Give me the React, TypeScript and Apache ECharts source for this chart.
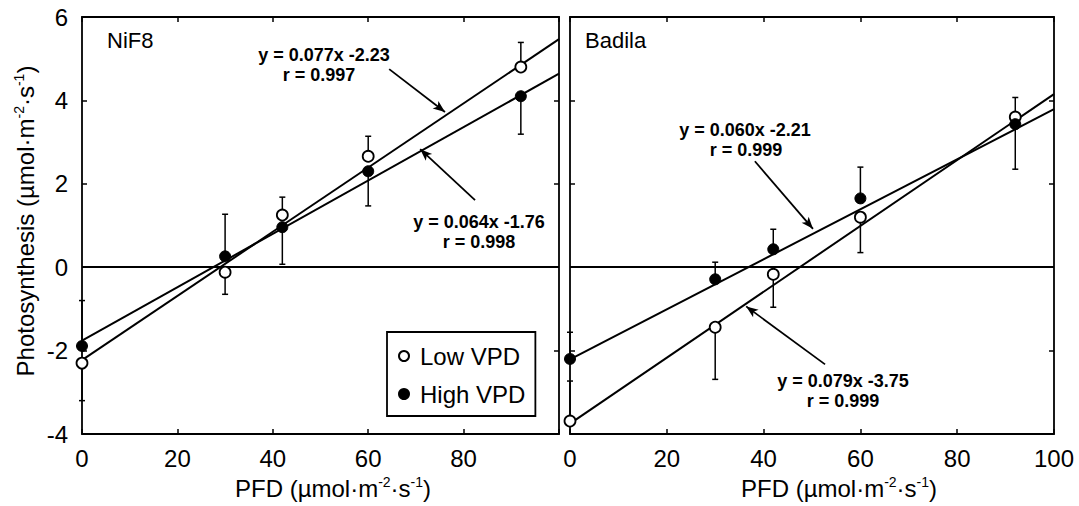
import React, { useEffect, useRef } from 'react';
import * as echarts from 'echarts';

// ---- data ----
const pfd = [0, 30, 42, 60, 92];
const nif8Low = [-2.3, -0.12, 1.25, 2.66, 4.8];
const nif8High = [-1.89, 0.26, 0.96, 2.3, 4.1];
const nif8LowErrEnd = [-3.2, -0.65, 1.68, 3.14, 5.39];
const nif8HighErrEnd = [-0.8, 1.27, 0.07, 1.47, 3.19];
const badilaLow = [-3.69, -1.44, -0.17, 1.2, 3.6];
const badilaHigh = [-2.2, -0.29, 0.43, 1.65, 3.43];
const badilaLowErrEnd = [-2.73, -2.69, -0.96, 0.35, 4.07];
const badilaHighErrEnd = [-1.56, 0.12, 0.91, 2.4, 2.35];

const fitX = [0, 100];
const nif8LowFit = [-2.23, 5.47];
const nif8HighFit = [-1.76, 4.64];
const badilaLowFit = [-3.75, 4.15];
const badilaHighFit = [-2.21, 3.79];

// arrow endpoints [x1, y1, x2, y2] in data units
const nif8LowArrow = [64.4, 4.75, 76.1, 3.72];
const nif8HighArrow = [82.4, 1.61, 70.9, 2.83];
const badilaHighArrow = [38.2, 2.54, 50.2, 0.92];
const badilaLowArrow = [52.7, -2.33, 36.4, -0.94];

const xMin = 0, xMax = 100, xStep = 20;
const yMin = -4, yMax = 6, yStep = 2;

const FONT = "'Liberation Sans', Arial, Helvetica, sans-serif";

function pts(xs: number[], ys: number[]) {
  return xs.map((x, i) => [x, ys[i]]);
}
function bars(xs: number[], ys: number[], ends: number[]) {
  return xs.map((x, i) => [x, ys[i], ends[i]]);
}

export default function App() {
  const ref = useRef<HTMLDivElement>(null);
  useEffect(() => {
    document.body.style.margin = '0';
    if (!ref.current) return;
    const chart = echarts.init(ref.current, null, { renderer: 'svg' });

    const axisLine = { show: true, onZero: false, lineStyle: { color: '#000', width: 1.8 } };
    const axisTick = { show: true, inside: true, length: 5, lineStyle: { color: '#000', width: 1.5 } };
    const labelStyle = { color: '#000', fontSize: 24, fontFamily: FONT };

    const mkX = (grid: number, pos: 'top' | 'bottom', showLabels: boolean, hide100: boolean) => ({
      type: 'value', gridIndex: grid, min: xMin, max: xMax, interval: xStep, position: pos,
      axisLine, axisTick, splitLine: { show: false },
      axisLabel: showLabels
        ? { ...labelStyle, margin: 12, showMinLabel: true, showMaxLabel: true, hideOverlap: false,
            formatter: (v: number) => (hide100 && v === 100 ? '' : String(v)) }
        : { show: false },
    });
    const mkY = (grid: number, pos: 'left' | 'right', showLabels: boolean) => ({
      type: 'value', gridIndex: grid, min: yMin, max: yMax, interval: yStep, position: pos,
      axisLine, axisTick, splitLine: { show: false },
      axisLabel: showLabels
        ? { ...labelStyle, margin: 14, showMinLabel: true, showMaxLabel: true, hideOverlap: false }
        : { show: false },
    });

    const openStyle = { color: '#fff', borderColor: '#000', borderWidth: 1.8, opacity: 1 };
    const filledStyle = { color: '#000', borderColor: '#000', borderWidth: 1, opacity: 1 };

    const errSeries = (xi: number, yi: number, data: number[][]) => ({
      type: 'custom', xAxisIndex: xi, yAxisIndex: yi, data, z: 2, silent: true,
      encode: { x: 0, y: [1, 2] },
      renderItem: (_p: any, api: any) => {
        const x = api.value(0);
        const a = api.coord([x, api.value(1)]);
        const b = api.coord([x, api.value(2)]);
        const st = { stroke: '#000', lineWidth: 1.5 };
        return {
          type: 'group',
          children: [
            { type: 'line', shape: { x1: a[0], y1: a[1], x2: b[0], y2: b[1] }, style: st },
            { type: 'line', shape: { x1: b[0] - 3, y1: b[1], x2: b[0] + 3, y2: b[1] }, style: st },
          ],
        };
      },
    });

    const fitSeries = (xi: number, yi: number, ys: number[]) => ({
      type: 'line', xAxisIndex: xi, yAxisIndex: yi, data: pts(fitX, ys), showSymbol: false,
      symbol: 'none', silent: true, z: 1, lineStyle: { color: '#000', width: 2 },
    });

    const arrowSeries = (xi: number, yi: number, arrows: number[][]) => ({
      type: 'line', xAxisIndex: xi, yAxisIndex: yi, data: [], silent: true,
      markLine: {
        silent: true, symbol: ['none', 'arrow'], symbolSize: [7, 12], animation: false,
        label: { show: false }, lineStyle: { color: '#000', width: 1.8, type: 'solid' },
        data: arrows.map((a) => [{ coord: [a[0], a[1]] }, { coord: [a[2], a[3]] }]),
      },
    });

    const zeroSeries = (xi: number, yi: number) => ({
      type: 'line', xAxisIndex: xi, yAxisIndex: yi, data: [], silent: true,
      markLine: {
        silent: true, symbol: ['none', 'none'], animation: false, label: { show: false },
        lineStyle: { color: '#000', width: 1.8, type: 'solid' }, data: [{ yAxis: 0 }],
      },
    });

    const scatter = (name: string, xi: number, yi: number, ys: number[], style: any, size: number) => ({
      name, type: 'scatter', xAxisIndex: xi, yAxisIndex: yi, data: pts(pfd, ys), symbol: 'circle',
      symbolSize: size, itemStyle: style, z: 5, silent: true,
    });

    const sup = { fontSize: 14, verticalAlign: 'top', fontFamily: FONT, fill: '#000', color: '#000', lineHeight: 18 };
    const base = { fontSize: 24, fontFamily: FONT, fill: '#000', color: '#000', lineHeight: 26 };
    const unitText = '{b|(µmol·m}{s|-2}{b|·s}{s|-1}{b|)}';

    const annot = (text: string, x: number, y: number) => ({
      type: 'text', x, y, silent: true,
      style: { text, fill: '#000', fontSize: 18, fontWeight: 'bold', fontFamily: FONT,
        textAlign: 'center', textVerticalAlign: 'middle', align: 'center', verticalAlign: 'middle' },
    });

    chart.setOption({
      animation: false,
      backgroundColor: '#fff',
      grid: [
        { left: 82, top: 17, width: 477, height: 417 },
        { left: 570, top: 17, width: 484, height: 417 },
      ],
      xAxis: [mkX(0, 'bottom', true, true), mkX(0, 'top', false, false), mkX(1, 'bottom', true, false), mkX(1, 'top', false, false)],
      yAxis: [mkY(0, 'left', true), mkY(0, 'right', false), mkY(1, 'left', false), mkY(1, 'right', false)],
      legend: {
        left: 387, top: 332, orient: 'vertical', data: ['Low VPD', 'High VPD'],
        borderColor: '#000', borderWidth: 1.8, padding: [12, 10, 10, 11], itemGap: 14,
        itemWidth: 10, itemHeight: 10, icon: 'circle', selectedMode: false,
        textStyle: { color: '#000', fontSize: 24, fontFamily: FONT, padding: [0, 0, 0, 6] },
      },
      series: [
        zeroSeries(0, 0),
        zeroSeries(2, 2),
        fitSeries(0, 0, nif8LowFit),
        fitSeries(0, 0, nif8HighFit),
        fitSeries(2, 2, badilaLowFit),
        fitSeries(2, 2, badilaHighFit),
        errSeries(0, 0, bars(pfd, nif8Low, nif8LowErrEnd)),
        errSeries(0, 0, bars(pfd, nif8High, nif8HighErrEnd)),
        errSeries(2, 2, bars(pfd, badilaLow, badilaLowErrEnd)),
        errSeries(2, 2, bars(pfd, badilaHigh, badilaHighErrEnd)),
        arrowSeries(0, 0, [nif8LowArrow, nif8HighArrow]),
        arrowSeries(2, 2, [badilaHighArrow, badilaLowArrow]),
        scatter('Low VPD', 0, 0, nif8Low, openStyle, 11),
        scatter('High VPD', 0, 0, nif8High, filledStyle, 11),
        scatter('Low VPD', 2, 2, badilaLow, openStyle, 11),
        scatter('High VPD', 2, 2, badilaHigh, filledStyle, 11),
      ],
      graphic: [
        { type: 'text', x: 107, y: 40, silent: true,
          style: { text: 'NiF8', fill: '#000', fontSize: 22, fontFamily: FONT, textVerticalAlign: 'middle', verticalAlign: 'middle' } },
        { type: 'text', x: 585, y: 40, silent: true,
          style: { text: 'Badila', fill: '#000', fontSize: 22, fontFamily: FONT, textVerticalAlign: 'middle', verticalAlign: 'middle' } },
        annot('y = 0.077x -2.23', 324, 55),
        annot('r = 0.997', 319, 75),
        annot('y = 0.064x -1.76', 479, 222),
        annot('r = 0.998', 479, 242),
        annot('y = 0.060x -2.21', 745, 130),
        annot('r = 0.999', 746, 150),
        annot('y = 0.079x -3.75', 843, 381),
        annot('r = 0.999', 843, 401),
        { type: 'text', x: 333, y: 488, silent: true,
          style: { text: '{b|PFD }' + unitText, rich: { b: base, s: sup }, textAlign: 'center', textVerticalAlign: 'middle', align: 'center', verticalAlign: 'middle' } },
        { type: 'text', x: 839, y: 488, silent: true,
          style: { text: '{b|PFD }' + unitText, rich: { b: base, s: sup }, textAlign: 'center', textVerticalAlign: 'middle', align: 'center', verticalAlign: 'middle' } },
        { type: 'text', x: 25, y: 221, rotation: Math.PI / 2, silent: true,
          style: { text: '{b|Photosynthesis }' + unitText, rich: { b: base, s: sup }, textAlign: 'center', textVerticalAlign: 'middle', align: 'center', verticalAlign: 'middle' } },
      ],
    });
    return () => chart.dispose();
  }, []);
  return <div ref={ref} style={{ width: 1079, height: 506 }} />;
}
